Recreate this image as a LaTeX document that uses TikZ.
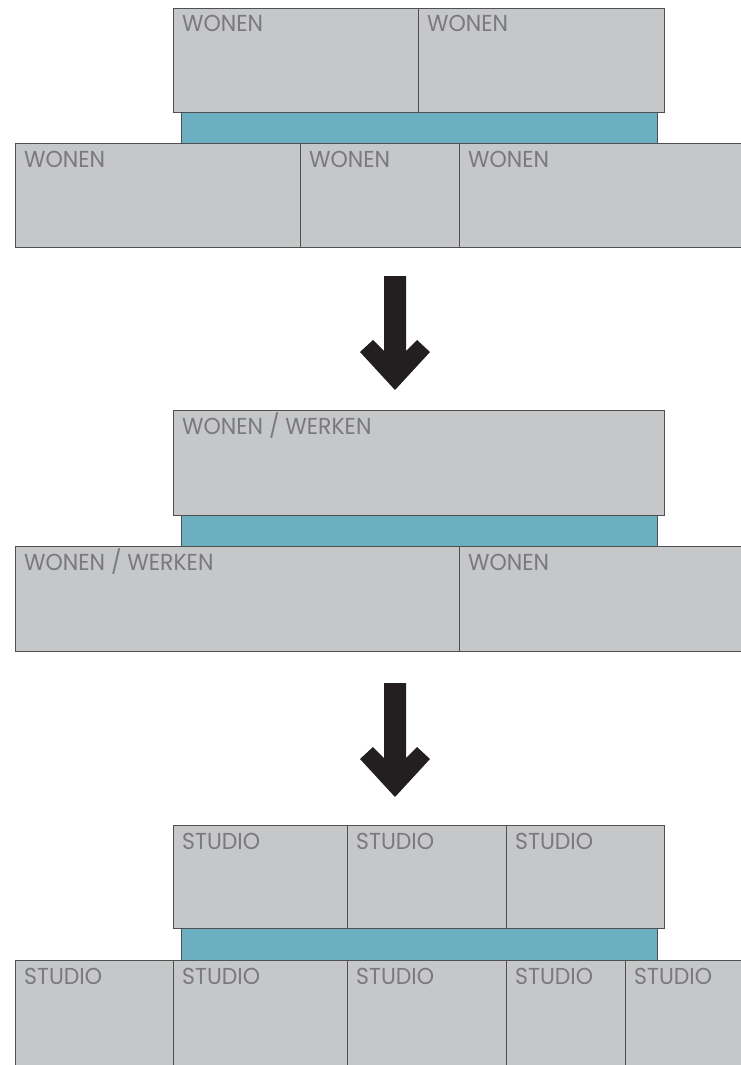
\documentclass[tikz,border=0pt]{standalone}
\usepackage{fontspec}
\setmainfont{Poppins}
\definecolor{cellgray}{HTML}{C6C7C9}
\definecolor{edgegray}{HTML}{505050}
\definecolor{labgray}{HTML}{7A7A7C}
\definecolor{teal}{HTML}{6BAFC0}
\definecolor{arrowblack}{HTML}{231F20}
\newcommand{\cellbox}[6]{%
  \node[cell, minimum width={#4pt-#2pt}, minimum height={#5pt-#3pt}] (#1) at ({(#2+#4)/2},{(#3+#5)/2}) {};
  \node[lab] (#1t) at ([xshift=9pt,yshift=-24pt]#1.north west) {#6};}
\newcommand{\bandbox}[5]{%
  \node[band, minimum width={#4pt-#2pt}, minimum height={#5pt-#3pt}] (#1) at ({(#2+#4)/2},{(#3+#5)/2}) {};}
\begin{document}
\begin{tikzpicture}[x=1pt,y=-1pt,
  cell/.style={draw=edgegray, fill=cellgray, line width=0.9pt, inner sep=0pt, outer sep=0pt},
  band/.style={draw=edgegray, fill=teal, line width=0.9pt, inner sep=0pt, outer sep=0pt},
  lab/.style={anchor=base west, text=labgray, font=\fontsize{22}{22}\selectfont, inner sep=0pt, yscale=1.05},
  bigarrow/.style={fill=arrowblack, draw=none}]
\useasboundingbox (0,0) rectangle (741,1065);
\clip (0,0) rectangle (741,1065);
% ---- group 1
\bandbox{b1}{181}{105}{657}{143}
\cellbox{a1}{173}{8}{418}{112}{WONEN}
\cellbox{a2}{418}{8}{664}{112}{WONEN}
\cellbox{c1}{15}{143}{300}{247}{WONEN}
\cellbox{c2}{300}{143}{459}{247}{WONEN}
\cellbox{c3}{459}{143}{745}{247}{WONEN}
% arrow 1
\fill[bigarrow] (384,276) -- (384,351) -- (373,340) -- (360,352) -- (395,390) -- (430,352) -- (417,340) -- (406,351) -- (406,276) -- cycle;
% ---- group 2
\bandbox{b2}{181}{508}{657}{546}
\cellbox{d1}{173}{410}{664}{515}{WONEN / WERKEN}
\cellbox{e1}{15}{546}{459}{651}{WONEN / WERKEN}
\cellbox{e2}{459}{546}{745}{651}{WONEN}
% arrow 2
\fill[bigarrow] (384,683) -- (384,758) -- (373,747) -- (360,759) -- (395,797) -- (430,759) -- (417,747) -- (406,758) -- (406,683) -- cycle;
% ---- group 3
\bandbox{b3}{181}{920}{657}{960}
\cellbox{f1}{173}{825}{347}{928}{STUDIO}
\cellbox{f2}{347}{825}{506}{928}{STUDIO}
\cellbox{f3}{506}{825}{664}{928}{STUDIO}
\cellbox{g1}{15}{960}{173}{1070}{STUDIO}
\cellbox{g2}{173}{960}{347}{1070}{STUDIO}
\cellbox{g3}{347}{960}{506}{1070}{STUDIO}
\cellbox{g4}{506}{960}{625}{1070}{STUDIO}
\cellbox{g5}{625}{960}{745}{1070}{STUDIO}
\end{tikzpicture}
\end{document}
